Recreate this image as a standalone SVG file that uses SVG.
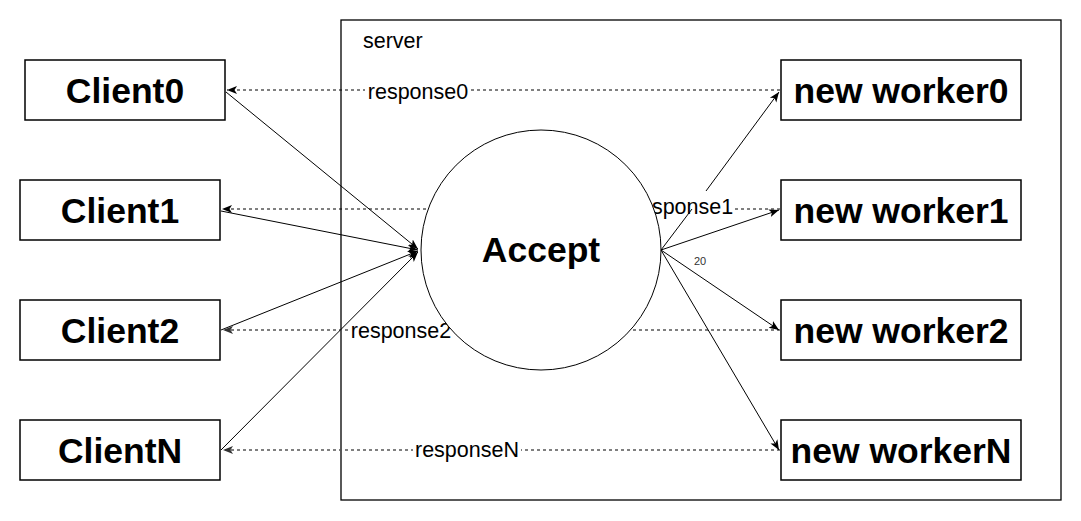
<svg xmlns="http://www.w3.org/2000/svg" width="1081" height="521" viewBox="0 0 1081 521">
<defs>
<marker id="arr" markerWidth="11" markerHeight="11" refX="10" refY="5.5" orient="auto" markerUnits="userSpaceOnUse">
<path d="M0,1.5 L10,5.5 L0,9.5 L2.5,5.5 Z" fill="#000"/>
</marker>
<marker id="arrg" markerWidth="11" markerHeight="11" refX="10" refY="5.5" orient="auto" markerUnits="userSpaceOnUse">
<path d="M0,1.5 L10,5.5 L0,9.5 L2.5,5.5 Z" fill="#333"/>
</marker>
</defs>
<style>
.box{fill:#fff;stroke:#000;stroke-width:1.5}
.big{font-family:"Liberation Sans",Arial,sans-serif;font-weight:bold;font-size:35.5px;text-anchor:middle;fill:#000}
.lbl{font-family:"Liberation Sans",Arial,sans-serif;font-size:21.5px;text-anchor:middle;fill:#000}
.bg{fill:#fff}
.dash{fill:none;stroke:#000;stroke-width:1;stroke-dasharray:3 3}
.dashg{fill:none;stroke:#555;stroke-width:1.3;stroke-dasharray:3 3}
.solid{fill:none;stroke:#000;stroke-width:1}
</style>
<rect width="1081" height="521" fill="#fff"/>
<g id="server">
<rect x="341" y="20" width="720" height="480" fill="none" stroke="#000" stroke-width="1.3"/>
<text x="363" y="48" class="lbl" style="text-anchor:start">server</text>
</g>
<g id="responses">
<path class="dash" d="M780,90 L227,90" marker-end="url(#arr)"/>
<path class="dash" d="M780,209 L222,209" marker-end="url(#arr)"/>
<path class="dashg" d="M780,330 L223,330" marker-end="url(#arrg)"/>
<path class="dashg" d="M780,450 L223,450" marker-end="url(#arrg)"/>
<rect class="bg" x="365" y="79" width="105" height="24"/>
<text x="418" y="99" class="lbl">response0</text>
<rect class="bg" x="631" y="196" width="104" height="25"/>
<text x="683" y="214" class="lbl">response1</text>
<rect class="bg" x="349" y="319" width="104" height="24"/>
<text x="401" y="338" class="lbl">response2</text>
<rect class="bg" x="413" y="439" width="108" height="24"/>
<text x="467" y="457" class="lbl">responseN</text>
</g>
<g id="accept">
<circle cx="541" cy="250" r="120" fill="#fff" stroke="#000" stroke-width="1"/>
<text x="541" y="262" class="big">Accept</text>
</g>
<g id="connectors">
<path class="solid" d="M226,92 L418,249" marker-end="url(#arr)"/>
<path class="solid" d="M221,211 L418,250" marker-end="url(#arr)"/>
<path class="solid" d="M221,330 L418,251" marker-end="url(#arr)"/>
<path class="solid" d="M221,450 L418,252" marker-end="url(#arr)"/>
<path class="solid" d="M661,250 L692,209" />
<path class="solid" d="M706,191 L779,92" marker-end="url(#arr)"/>
<path class="solid" d="M661,250 L779,210" marker-end="url(#arr)"/>
<path class="solid" d="M661,250 L779,330" marker-end="url(#arr)"/>
<path class="solid" d="M661,250 L779,450" marker-end="url(#arr)"/>
<text x="700" y="265" style="font-family:'Liberation Sans',Arial,sans-serif;font-size:11px;fill:#333;text-anchor:middle">20</text>
</g>
<g id="client0"><rect class="box" x="25" y="60" width="200" height="60"/><text x="125" y="103" class="big">Client0</text></g>
<g id="client1"><rect class="box" x="20" y="180" width="200" height="60"/><text x="120" y="223" class="big">Client1</text></g>
<g id="client2"><rect class="box" x="20" y="300" width="200" height="60"/><text x="120" y="343" class="big">Client2</text></g>
<g id="clientN"><rect class="box" x="20" y="420" width="200" height="60"/><text x="120" y="463" class="big">ClientN</text></g>
<g id="worker0"><rect class="box" x="781" y="60" width="240" height="60"/><text x="901" y="103" class="big">new worker0</text></g>
<g id="worker1"><rect class="box" x="781" y="180" width="240" height="60"/><text x="901" y="223" class="big">new worker1</text></g>
<g id="worker2"><rect class="box" x="781" y="300" width="240" height="60"/><text x="901" y="343" class="big">new worker2</text></g>
<g id="workerN"><rect class="box" x="781" y="420" width="240" height="60"/><text x="901" y="463" class="big">new workerN</text></g>
</svg>
